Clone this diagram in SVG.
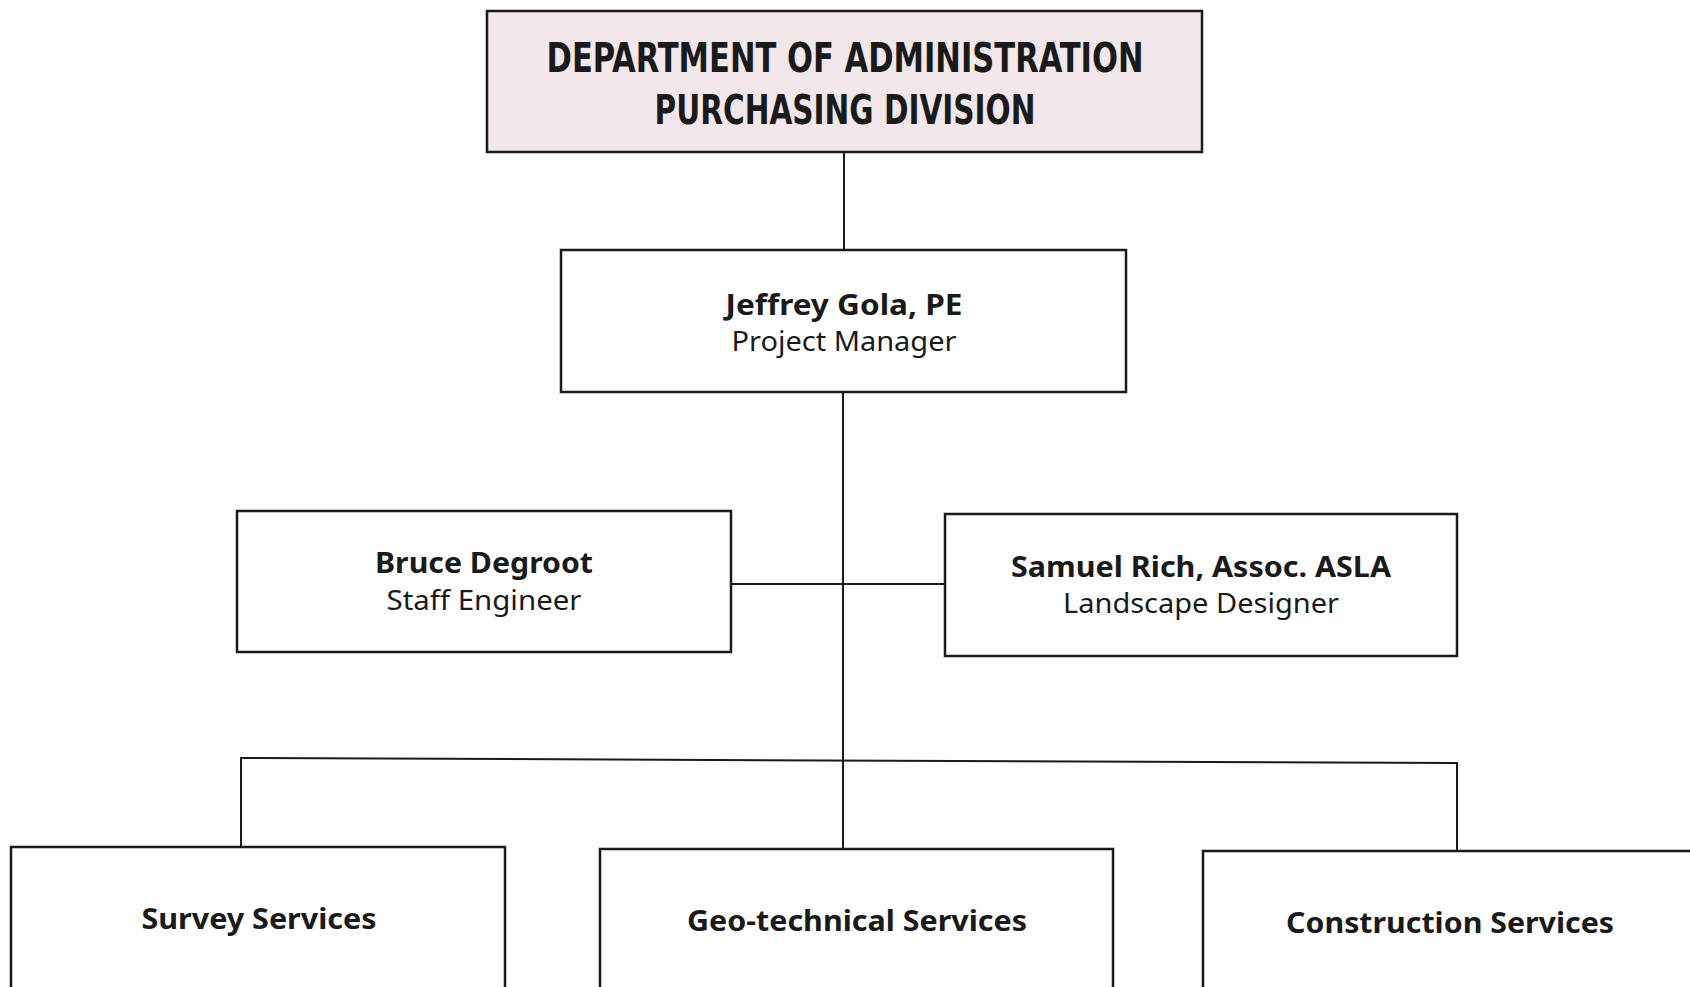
<svg xmlns="http://www.w3.org/2000/svg" width="1690" height="987" viewBox="0 0 1690 987">
<style>
.box{fill:#ffffff;stroke:#1a1a1a;stroke-width:2.5}
.hdr{fill:#f2e7ea;stroke:#1a1a1a;stroke-width:2.5}
.conn{stroke:#1a1a1a;stroke-width:2;fill:none}
.ht{font-family:"DejaVu Sans Condensed","DejaVu Sans",sans-serif;font-weight:bold;font-size:40px;fill:#1a1a1a;text-anchor:middle}
.nm{font-family:"Noto Sans",Lato,sans-serif;font-weight:bold;font-size:29px;fill:#1a1a1a;text-anchor:middle}
.tl{font-family:"Noto Sans",Lato,sans-serif;font-size:27px;fill:#1a1a1a;text-anchor:middle}
</style>
<rect width="1690" height="987" fill="#ffffff"/>
<g id="connectors">
<line class="conn" x1="844" y1="152" x2="844" y2="250"/>
<line class="conn" x1="843" y1="392" x2="843" y2="849"/>
<line class="conn" x1="731" y1="584" x2="945" y2="584"/>
<polyline class="conn" points="241,847 241,758 1457,763 1457,851"/>
</g>
<g id="header">
<rect class="hdr" x="487" y="11" width="715" height="141"/>
<text class="ht" x="845" y="72" textLength="597" lengthAdjust="spacingAndGlyphs">DEPARTMENT OF ADMINISTRATION</text>
<text class="ht" x="845" y="124" textLength="381" lengthAdjust="spacingAndGlyphs">PURCHASING DIVISION</text>
</g>
<g id="pm">
<rect class="box" x="561" y="250" width="565" height="142"/>
<text class="nm" x="844" y="315" textLength="237" lengthAdjust="spacingAndGlyphs">Jeffrey Gola, PE</text>
<text class="tl" x="844" y="351" textLength="225" lengthAdjust="spacingAndGlyphs">Project Manager</text>
</g>
<g id="staff">
<rect class="box" x="237" y="511" width="494" height="141"/>
<text class="nm" x="484" y="573" textLength="218" lengthAdjust="spacingAndGlyphs">Bruce Degroot</text>
<text class="tl" x="484" y="610" textLength="195" lengthAdjust="spacingAndGlyphs">Staff Engineer</text>
</g>
<g id="landscape">
<rect class="box" x="945" y="514" width="512" height="142"/>
<text class="nm" x="1201" y="577" textLength="380" lengthAdjust="spacingAndGlyphs">Samuel Rich, Assoc. ASLA</text>
<text class="tl" x="1201" y="613" textLength="276" lengthAdjust="spacingAndGlyphs">Landscape Designer</text>
</g>
<g id="survey">
<rect class="box" x="11" y="847" width="494" height="160"/>
<text class="nm" x="259" y="929" textLength="235" lengthAdjust="spacingAndGlyphs">Survey Services</text>
</g>
<g id="geo">
<rect class="box" x="600" y="849" width="513" height="160"/>
<text class="nm" x="857" y="931" textLength="340" lengthAdjust="spacingAndGlyphs">Geo-technical Services</text>
</g>
<g id="construction">
<rect class="box" x="1203" y="851" width="510" height="160"/>
<text class="nm" x="1450" y="933" textLength="328" lengthAdjust="spacingAndGlyphs">Construction Services</text>
</g>
</svg>
